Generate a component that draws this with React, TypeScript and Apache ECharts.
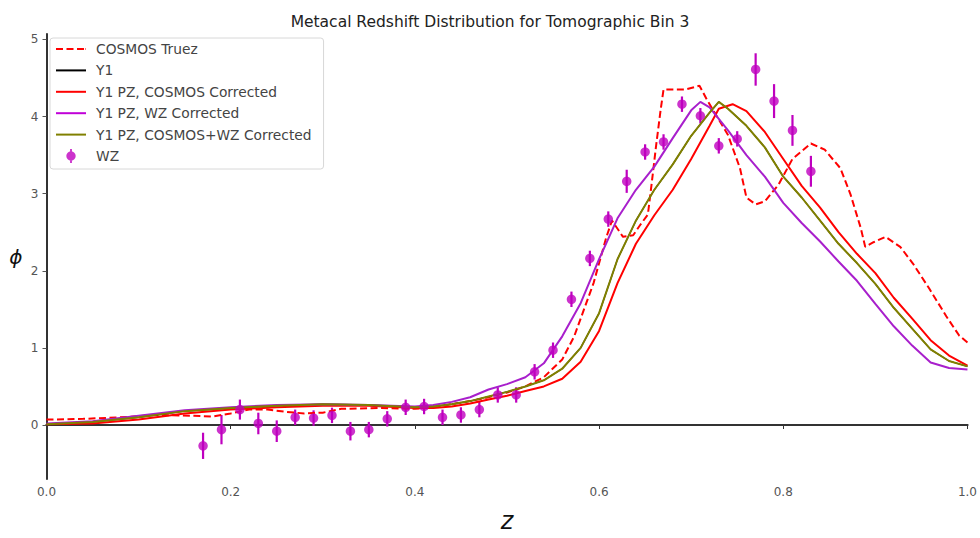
import React, { useEffect, useRef } from "react";
import * as echarts from "echarts";

const TITLE = "Metacal Redshift Distribution for Tomographic Bin 3";
const yTicks = [0, 1, 2, 3, 4, 5];

const cosmosTruez: number[][] = [
  [0, 0.07], [0.04, 0.08], [0.08, 0.1], [0.12, 0.13], [0.16, 0.12], [0.18, 0.11], [0.2, 0.15],
  [0.22, 0.2], [0.24, 0.2], [0.26, 0.17], [0.28, 0.15], [0.3, 0.16], [0.32, 0.21], [0.36, 0.22],
  [0.4, 0.21], [0.42, 0.23], [0.44, 0.27], [0.46, 0.31], [0.48, 0.36], [0.5, 0.42], [0.52, 0.5],
  [0.54, 0.62], [0.56, 0.85], [0.573, 1.15], [0.594, 1.84], [0.608, 2.44], [0.614, 2.65],
  [0.626, 2.44], [0.637, 2.46], [0.645, 2.6], [0.653, 2.73], [0.657, 3.12], [0.662, 3.63],
  [0.667, 4.1], [0.67, 4.35], [0.694, 4.35], [0.709, 4.4], [0.717, 4.22], [0.74, 3.76],
  [0.753, 3.33], [0.76, 2.95], [0.77, 2.86], [0.78, 2.9], [0.795, 3.12], [0.81, 3.45],
  [0.83, 3.65], [0.845, 3.57], [0.862, 3.33], [0.873, 2.99], [0.884, 2.56], [0.889, 2.31],
  [0.898, 2.37], [0.911, 2.44], [0.927, 2.31], [0.941, 2.09], [0.959, 1.76], [0.977, 1.41],
  [0.991, 1.16], [1.0, 1.07],
];

const cosmosCorrected: number[][] = [
  [0, 0.01], [0.05, 0.02], [0.1, 0.07], [0.15, 0.15], [0.2, 0.2], [0.25, 0.23], [0.3, 0.25],
  [0.35, 0.25], [0.4, 0.22], [0.42, 0.22], [0.44, 0.24], [0.46, 0.28], [0.48, 0.33], [0.5, 0.38],
  [0.52, 0.44], [0.54, 0.5], [0.56, 0.6], [0.58, 0.82], [0.6, 1.22], [0.62, 1.84], [0.64, 2.35],
  [0.66, 2.72], [0.68, 3.05], [0.7, 3.45], [0.72, 3.88], [0.73, 4.1], [0.745, 4.16], [0.76, 4.07],
  [0.78, 3.8], [0.8, 3.45], [0.82, 3.1], [0.84, 2.82], [0.86, 2.5], [0.88, 2.22], [0.9, 1.97],
  [0.92, 1.65], [0.94, 1.38], [0.96, 1.1], [0.98, 0.9], [1.0, 0.77],
];

const wzCorrected: number[][] = [
  [0, 0.02], [0.05, 0.05], [0.1, 0.12], [0.15, 0.19], [0.2, 0.23], [0.25, 0.26], [0.3, 0.27],
  [0.35, 0.26], [0.4, 0.24], [0.42, 0.26], [0.44, 0.3], [0.46, 0.36], [0.48, 0.46], [0.5, 0.53],
  [0.52, 0.62], [0.54, 0.8], [0.56, 1.15], [0.58, 1.58], [0.6, 2.15], [0.62, 2.68], [0.64, 3.05],
  [0.66, 3.35], [0.68, 3.72], [0.7, 4.08], [0.71, 4.19], [0.72, 4.12], [0.74, 3.82], [0.76, 3.5],
  [0.78, 3.22], [0.8, 2.88], [0.82, 2.62], [0.84, 2.38], [0.86, 2.12], [0.88, 1.87], [0.9, 1.57],
  [0.92, 1.28], [0.94, 1.03], [0.96, 0.81], [0.98, 0.74], [1.0, 0.72],
];

const cosmosWzCorrected: number[][] = [
  [0, 0.01], [0.05, 0.04], [0.1, 0.1], [0.15, 0.18], [0.2, 0.22], [0.25, 0.25], [0.3, 0.27],
  [0.35, 0.26], [0.4, 0.23], [0.42, 0.24], [0.44, 0.27], [0.46, 0.31], [0.48, 0.37], [0.5, 0.43],
  [0.52, 0.5], [0.54, 0.58], [0.56, 0.73], [0.58, 1.0], [0.6, 1.45], [0.62, 2.15], [0.64, 2.65],
  [0.66, 3.05], [0.68, 3.38], [0.7, 3.75], [0.72, 4.05], [0.73, 4.19], [0.74, 4.1], [0.76, 3.88],
  [0.78, 3.6], [0.8, 3.22], [0.82, 2.95], [0.84, 2.65], [0.86, 2.35], [0.88, 2.1], [0.9, 1.83],
  [0.92, 1.52], [0.94, 1.25], [0.96, 0.98], [0.98, 0.83], [1.0, 0.76],
];

// Y1 (uncorrected) lies beneath the corrected curves
const y1Curve: number[][] = cosmosWzCorrected;

const wzZ = [
  0.17, 0.19, 0.21, 0.23, 0.25, 0.27, 0.29, 0.31, 0.33, 0.35, 0.37, 0.39, 0.41, 0.43, 0.45, 0.47,
  0.49, 0.51, 0.53, 0.55, 0.57, 0.59, 0.61, 0.63, 0.65, 0.67, 0.69, 0.71, 0.73, 0.75, 0.77, 0.79,
  0.81, 0.83,
];
const wzPhi = [
  -0.27, -0.06, 0.2, 0.02, -0.08, 0.1, 0.09, 0.125, -0.08, -0.06, 0.08, 0.23, 0.24, 0.1, 0.13, 0.2,
  0.39, 0.39, 0.69, 0.97, 1.63, 2.16, 2.67, 3.16, 3.54, 3.67, 4.16, 4.01, 3.62, 3.71, 4.61, 4.2,
  3.82, 3.29,
];
const wzErr = [
  0.17, 0.19, 0.13, 0.14, 0.14, 0.1, 0.1, 0.1, 0.12, 0.1, 0.1, 0.1, 0.1, 0.1, 0.1, 0.1, 0.1, 0.1,
  0.1, 0.1, 0.1, 0.1, 0.1, 0.15, 0.1, 0.1, 0.1, 0.1, 0.1, 0.1, 0.21, 0.22, 0.2, 0.2,
];

const MAGENTA = "#bf00bf";
const PURPLE = "#a81fcc";
const OLIVE = "#808000";
const RED = "#ff0000";
const FONT = "DejaVu Sans";

const SOLID_ICON = "path://M0,0 H30 V2 H0 Z";
const DASHED_ICON = "path://M0,0 H7 V2 H0 Z M10.5,0 H17.5 V2 H10.5 Z M21,0 H28 V2 H21 Z M29.5,0 H30 V2 H29.5 Z";
const ERR_ICON = "path://M5,2 A4,4 0 1,1 4.99,2 Z M4.2,0 H5.8 V12 H4.2 Z";

export default function App() {
  const ref = useRef<HTMLDivElement>(null);
  useEffect(() => {
    if (!ref.current) return;
    const chart = echarts.init(ref.current, null, { renderer: "svg" });
    const wzData = wzZ.map((z, i) => [z, wzPhi[i], wzErr[i]]);
    const axisLabelStyle = { color: "#555", fontSize: 12, fontFamily: FONT };
    chart.setOption({
      animation: false,
      backgroundColor: "#fff",
      title: {
        text: TITLE,
        left: "center",
        top: 9,
        textStyle: { fontFamily: FONT, fontSize: 15.5, fontWeight: "normal", color: "#222" },
      },
      grid: { left: 46.5, right: 2, top: 34, bottom: 53 },
      legend: {
        orient: "vertical",
        left: 50,
        top: 38,
        padding: [4, 12, 6, 6],
        itemWidth: 30,
        itemHeight: 14,
        itemGap: 7.4,
        backgroundColor: "#fff",
        borderColor: "#d8d8d8",
        borderWidth: 1,
        borderRadius: 3,
        textStyle: { fontFamily: FONT, fontSize: 13.8, color: "#444", padding: [0, 0, 0, 5] },
        data: [
          { name: "COSMOS Truez", icon: DASHED_ICON },
          { name: "Y1", icon: SOLID_ICON },
          { name: "Y1 PZ, COSMOS Corrected", icon: SOLID_ICON },
          { name: "Y1 PZ, WZ Corrected", icon: SOLID_ICON },
          { name: "Y1 PZ, COSMOS+WZ Corrected", icon: SOLID_ICON },
          { name: "WZ", icon: ERR_ICON },
        ],
      },
      xAxis: [
        {
          type: "value",
          min: 0,
          max: 1,
          interval: 0.2,
          name: "z",
          nameLocation: "middle",
          nameGap: 30,
          nameTextStyle: { fontFamily: FONT, fontSize: 24, fontStyle: "italic", color: "#111" },
          axisLine: { show: true, lineStyle: { color: "#333", width: 2 } },
          axisTick: { show: true, length: 4, lineStyle: { color: "#333", width: 1 } },
          axisLabel: { ...axisLabelStyle, margin: 7, formatter: (v: number) => v.toFixed(1) },
          splitLine: { show: false },
        },
        {
          type: "value",
          position: "top",
          min: 0,
          max: 1,
          axisLine: { show: true, lineStyle: { color: "#333", width: 2 } },
          axisTick: { show: false },
          axisLabel: { show: false },
          splitLine: { show: false },
        },
      ],
      yAxis: [
        {
          type: "value",
          min: -0.7,
          max: 5.07,
          name: "ϕ",
          nameLocation: "middle",
          nameRotate: 0,
          nameGap: 24,
          nameTextStyle: { fontFamily: FONT, fontSize: 20, fontStyle: "italic", color: "#111" },
          axisLine: { show: true, lineStyle: { color: "#999", width: 1 } },
          axisTick: { show: true, length: 4, customValues: yTicks, lineStyle: { color: "#555" } },
          axisLabel: { ...axisLabelStyle, margin: 8, customValues: yTicks, formatter: (v: number) => String(Math.round(v)) },
          splitLine: { show: false },
        },
        {
          type: "value",
          position: "right",
          min: -0.7,
          max: 5.07,
          axisLine: { show: true, lineStyle: { color: "#333", width: 2 } },
          axisTick: { show: false },
          axisLabel: { show: false },
          splitLine: { show: false },
        },
      ],
      series: [
        {
          name: "COSMOS Truez",
          type: "line",
          data: cosmosTruez,
          symbol: "none",
          lineStyle: { color: RED, width: 2, type: [7, 3.5] },
          itemStyle: { color: RED },
        },
        {
          name: "Y1",
          type: "line",
          data: y1Curve,
          symbol: "none",
          lineStyle: { color: "#000", width: 1.2 },
          itemStyle: { color: "#000" },
        },
        {
          name: "Y1 PZ, COSMOS Corrected",
          type: "line",
          data: cosmosCorrected,
          symbol: "none",
          lineStyle: { color: RED, width: 2 },
          itemStyle: { color: RED },
        },
        {
          name: "Y1 PZ, WZ Corrected",
          type: "line",
          data: wzCorrected,
          symbol: "none",
          lineStyle: { color: PURPLE, width: 2 },
          itemStyle: { color: "#c000d8" },
        },
        {
          name: "Y1 PZ, COSMOS+WZ Corrected",
          type: "line",
          data: cosmosWzCorrected,
          symbol: "none",
          lineStyle: { color: OLIVE, width: 2 },
          itemStyle: { color: OLIVE },
        },
        {
          name: "WZ errors",
          type: "custom",
          data: wzData,
          renderItem: (params: any, api: any) => {
            const x = api.value(0);
            const y = api.value(1);
            const e = api.value(2);
            const p1 = api.coord([x, y - e]);
            const p2 = api.coord([x, y + e]);
            return {
              type: "line",
              shape: { x1: p1[0], y1: p1[1], x2: p2[0], y2: p2[1] },
              style: { stroke: MAGENTA, lineWidth: 2.2 },
            };
          },
          z: 3,
        },
        {
          name: "WZ",
          type: "scatter",
          data: wzData.map((d) => [d[0], d[1]]),
          symbol: "circle",
          symbolSize: 9.5,
          itemStyle: { color: MAGENTA },
          z: 4,
        },
      ],
    });
    return () => chart.dispose();
  }, []);
  return (
    <div
      ref={ref}
      style={{ position: "fixed", left: 0, top: 0, width: 980, height: 538, background: "#fff" }}
    />
  );
}
